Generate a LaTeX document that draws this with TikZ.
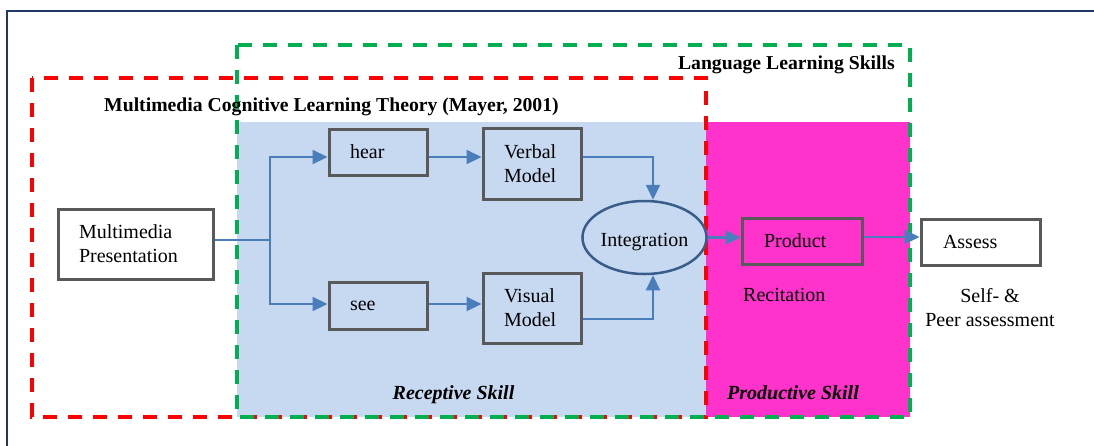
\documentclass[tikz,border=0pt]{standalone}
\usepackage{fontspec}
\setmainfont{Liberation Serif}
\usetikzlibrary{arrows.meta,shapes.geometric}
\definecolor{navy}{HTML}{1F3864}
\definecolor{fillblue}{HTML}{C6D9F1}
\definecolor{fillpink}{HTML}{FF33CC}
\definecolor{dgreen}{HTML}{00B050}
\definecolor{boxgray}{HTML}{595959}
\definecolor{arrowblue}{HTML}{4A7EBB}
\definecolor{ellblue}{HTML}{385D8A}
\begin{document}
\begin{tikzpicture}[x=1pt,y=-1pt,
  font=\fontsize{20}{24}\selectfont,
  boxnode/.style={draw=boxgray,line width=3pt,rectangle,align=left,inner ysep=0pt,anchor=center},
  arr/.style={draw=arrowblue,line width=2.2pt,-{Triangle[length=15pt,width=14pt]}},
  plainline/.style={draw=arrowblue,line width=2.2pt},
  reddash/.style={draw=red,line width=4pt,dash pattern=on 14pt off 11pt},
  greendash/.style={draw=dgreen,line width=3.5pt,dash pattern=on 14pt off 11pt},
  plaintext/.style={inner sep=0pt},
  boldtext/.style={inner sep=0pt,font=\fontsize{19.7}{24}\selectfont\bfseries},
  skilltext/.style={inner sep=0pt,font=\fontsize{20}{24}\selectfont\bfseries\itshape}
]
\useasboundingbox (0,0) rectangle (1094,445);
% outer frame
\draw[navy,line width=2.8pt] (7,470) -- (7,11) -- (1120,11);
% fills
\fill[fillblue] (237,122) rectangle (706,417);
\fill[fillpink] (706,122) rectangle (910,417);
% dashed regions
\draw[reddash] (32,78) rectangle (706,417);
\draw[greendash] (237,45) rectangle (910,417);

% titles
\node[boldtext,anchor=east] (lls) at (895,65) {Language Learning Skills};
\node[boldtext,anchor=west] (mclt) at (104,107) {Multimedia Cognitive Learning Theory (Mayer, 2001)};

% boxes
\node[boxnode,fill=white,minimum width=155pt,minimum height=70pt,inner xsep=21pt,text width=113pt] (pres) at (135.5,244) {Multimedia\\Presentation};
\node[boxnode,fill=fillblue,minimum width=98pt,minimum height=46pt,inner xsep=21pt,text width=56pt] (hear) at (378,152) {hear};
\node[boxnode,fill=fillblue,minimum width=98pt,minimum height=47pt,inner xsep=21pt,text width=56pt] (see) at (378,305.5) {see};
\node[boxnode,fill=fillblue,minimum width=98pt,minimum height=71pt,inner xsep=21pt,text width=56pt] (verbal) at (532,163.5) {Verbal\\Model};
\node[boxnode,fill=fillblue,minimum width=98pt,minimum height=70pt,inner xsep=21pt,text width=56pt] (visual) at (532,308) {Visual\\Model};
\node[ellipse,draw=ellblue,line width=2.5pt,fill=fillblue,minimum width=123pt,minimum height=73pt,inner sep=0pt] (integ) at (644.5,237.5) {\raisebox{-5pt}[\height][\depth]{Integration}};
\node[boxnode,fill=fillpink,minimum width=120pt,minimum height=46pt,inner xsep=22pt,text width=76pt] (product) at (802,241) {Product};
\node[boxnode,fill=white,minimum width=119pt,minimum height=46pt,inner xsep=22pt,text width=75pt] (assess) at (980.5,242) {Assess};

% other texts
\node[plaintext,anchor=west] (recit) at (743,295) {Recitation};
\node[plaintext,align=center] (selfpeer) at (990,308) {Self- \&\\Peer assessment};
\node[skilltext] (recep) at (453.5,395) {Receptive Skill};
\node[skilltext] (prodskill) at (793,393) {Productive Skill};

% connectors
\coordinate (split) at (270,240);
\draw[plainline] ([yshift=4pt]pres.east) -- (split);
\draw[arr] (split) |- ([yshift=-5pt]hear.west);
\draw[arr] (split) |- ([yshift=1.5pt]see.west);
\draw[arr] ([yshift=-5pt]hear.east) -- ([yshift=-5pt]hear.east -| verbal.west);
\draw[arr] ([yshift=1.5pt]see.east) -- ([yshift=1.5pt]see.east -| visual.west);
\draw[arr] ([yshift=6.5pt]verbal.east) -| ([xshift=8.5pt]integ.north);
\draw[arr] ([yshift=-11pt]visual.east) -| ([xshift=8.5pt]integ.south);
\draw[arr] (integ.east) -- (integ.east -| product.west);
\draw[arr] ([yshift=4pt]product.east) -- ([yshift=4pt]product.east -| assess.west);
\end{tikzpicture}
\end{document}
